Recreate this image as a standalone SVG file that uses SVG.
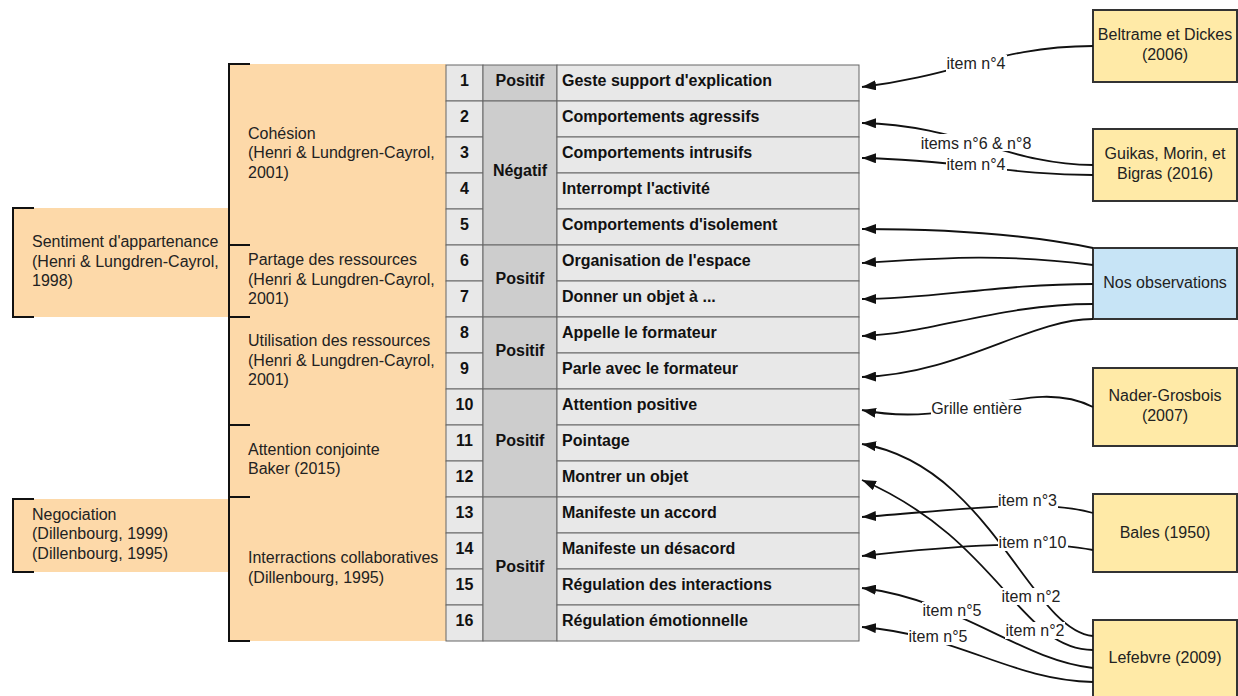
<svg xmlns="http://www.w3.org/2000/svg" width="1238" height="696" viewBox="0 0 1238 696">
<style>
.t{font-family:"Liberation Sans",Arial,sans-serif;font-size:16px;fill:#222}
.b{font-weight:bold;fill:#111}
.m{text-anchor:middle}
.cell{fill:#e8e8e8;stroke:#666;stroke-width:1}
.cat{fill:#cdcdcd;stroke:#666;stroke-width:1}
.org{fill:#fdd9a9}
.br{fill:none;stroke:#111;stroke-width:2}
.ylw{fill:#ffeaa7;stroke:#333;stroke-width:2}
.blu{fill:#c7e4f6;stroke:#333;stroke-width:2}
.c{fill:none;stroke:#111;stroke-width:1.8;marker-end:url(#arr)}
.lb{fill:#fff}
</style>
<defs>
<marker id="arr" viewBox="0 0 14 10" refX="14" refY="5" markerWidth="14" markerHeight="10" markerUnits="userSpaceOnUse" orient="auto"><path d="M0,0 L14,5 L0,10 z" fill="#111"/></marker>
</defs>

<g id="sentiment">
<rect class="org" x="13" y="208" width="216" height="109"/>
<path class="br" d="M34,208 H13 V317 H34"/>
<text class="t"><tspan x="32" y="247">Sentiment d'appartenance</tspan><tspan x="32" y="266.5">(Henri &amp; Lungdren-Cayrol,</tspan><tspan x="32" y="286">1998)</tspan></text>
</g>
<g id="negociation">
<rect class="org" x="13" y="499" width="216" height="73"/>
<path class="br" d="M34,499 H13 V572 H34"/>
<text class="t"><tspan x="32" y="519.5">Negociation</tspan><tspan x="32" y="539">(Dillenbourg, 1999)</tspan><tspan x="32" y="558.5">(Dillenbourg, 1995)</tspan></text>
</g>

<g id="categories">
<rect class="org" x="229" y="64" width="217" height="577"/>
<path class="br" d="M250,64 H229 V641 H250 M229,245 H250 M229,317 H250 M229,425 H250 M229,497 H250"/>
</g>
<g id="cohesion"><text class="t"><tspan x="248" y="138.5">Cohésion</tspan><tspan x="248" y="158">(Henri &amp; Lundgren-Cayrol,</tspan><tspan x="248" y="177.5">2001)</tspan></text></g>
<g id="partage"><text class="t"><tspan x="248" y="265">Partage des ressources</tspan><tspan x="248" y="284.5">(Henri &amp; Lungdren-Cayrol,</tspan><tspan x="248" y="304">2001)</tspan></text></g>
<g id="utilisation"><text class="t"><tspan x="248" y="346">Utilisation des ressources</tspan><tspan x="248" y="365.5">(Henri &amp; Lungdren-Cayrol,</tspan><tspan x="248" y="385">2001)</tspan></text></g>
<g id="attention"><text class="t"><tspan x="248" y="454.5">Attention conjointe</tspan><tspan x="248" y="474">Baker (2015)</tspan></text></g>
<g id="interractions"><text class="t"><tspan x="248" y="563">Interractions collaboratives</tspan><tspan x="248" y="582.5">(Dillenbourg, 1995)</tspan></text></g>

<g id="grille">
<g id="numeros">
<rect class="cell" x="446" y="65" width="37" height="36"/>
<rect class="cell" x="446" y="101" width="37" height="36"/>
<rect class="cell" x="446" y="137" width="37" height="36"/>
<rect class="cell" x="446" y="173" width="37" height="36"/>
<rect class="cell" x="446" y="209" width="37" height="36"/>
<rect class="cell" x="446" y="245" width="37" height="36"/>
<rect class="cell" x="446" y="281" width="37" height="36"/>
<rect class="cell" x="446" y="317" width="37" height="36"/>
<rect class="cell" x="446" y="353" width="37" height="36"/>
<rect class="cell" x="446" y="389" width="37" height="36"/>
<rect class="cell" x="446" y="425" width="37" height="36"/>
<rect class="cell" x="446" y="461" width="37" height="36"/>
<rect class="cell" x="446" y="497" width="37" height="36"/>
<rect class="cell" x="446" y="533" width="37" height="36"/>
<rect class="cell" x="446" y="569" width="37" height="36"/>
<rect class="cell" x="446" y="605" width="37" height="36"/>
<g class="t b m">
<text x="464.5" y="86">1</text><text x="464.5" y="122">2</text><text x="464.5" y="158">3</text><text x="464.5" y="194">4</text>
<text x="464.5" y="230">5</text><text x="464.5" y="266">6</text><text x="464.5" y="302">7</text><text x="464.5" y="338">8</text>
<text x="464.5" y="374">9</text><text x="464.5" y="410">10</text><text x="464.5" y="446">11</text><text x="464.5" y="482">12</text>
<text x="464.5" y="518">13</text><text x="464.5" y="554">14</text><text x="464.5" y="590">15</text><text x="464.5" y="626">16</text>
</g>
</g>
<g id="valences">
<rect class="cat" x="483" y="65" width="74" height="36"/>
<rect class="cat" x="483" y="101" width="74" height="144"/>
<rect class="cat" x="483" y="245" width="74" height="72"/>
<rect class="cat" x="483" y="317" width="74" height="72"/>
<rect class="cat" x="483" y="389" width="74" height="108"/>
<rect class="cat" x="483" y="497" width="74" height="144"/>
<g class="t b m">
<text x="520" y="86">Positif</text>
<text x="520" y="176">Négatif</text>
<text x="520" y="284">Positif</text>
<text x="520" y="356">Positif</text>
<text x="520" y="446">Positif</text>
<text x="520" y="572">Positif</text>
</g>
</g>
<g id="items">
<rect class="cell" x="557" y="65" width="302" height="36"/>
<rect class="cell" x="557" y="101" width="302" height="36"/>
<rect class="cell" x="557" y="137" width="302" height="36"/>
<rect class="cell" x="557" y="173" width="302" height="36"/>
<rect class="cell" x="557" y="209" width="302" height="36"/>
<rect class="cell" x="557" y="245" width="302" height="36"/>
<rect class="cell" x="557" y="281" width="302" height="36"/>
<rect class="cell" x="557" y="317" width="302" height="36"/>
<rect class="cell" x="557" y="353" width="302" height="36"/>
<rect class="cell" x="557" y="389" width="302" height="36"/>
<rect class="cell" x="557" y="425" width="302" height="36"/>
<rect class="cell" x="557" y="461" width="302" height="36"/>
<rect class="cell" x="557" y="497" width="302" height="36"/>
<rect class="cell" x="557" y="533" width="302" height="36"/>
<rect class="cell" x="557" y="569" width="302" height="36"/>
<rect class="cell" x="557" y="605" width="302" height="36"/>
<g class="t b">
<text x="562" y="86">Geste support d'explication</text>
<text x="562" y="122">Comportements agressifs</text>
<text x="562" y="158">Comportements intrusifs</text>
<text x="562" y="194">Interrompt l'activité</text>
<text x="562" y="230">Comportements d'isolement</text>
<text x="562" y="266">Organisation de l'espace</text>
<text x="562" y="302">Donner un objet à ...</text>
<text x="562" y="338">Appelle le formateur</text>
<text x="562" y="374">Parle avec le formateur</text>
<text x="562" y="410">Attention positive</text>
<text x="562" y="446">Pointage</text>
<text x="562" y="482">Montrer un objet</text>
<text x="562" y="518">Manifeste un accord</text>
<text x="562" y="554">Manifeste un désacord</text>
<text x="562" y="590">Régulation des interactions</text>
<text x="562" y="626">Régulation émotionnelle</text>
</g>
</g>
</g>

<g id="beltrame"><rect class="ylw" x="1093" y="10" width="144" height="72"/><text class="t m"><tspan x="1165" y="40">Beltrame et Dickes</tspan><tspan x="1165" y="59.5">(2006)</tspan></text></g>
<g id="guikas"><rect class="ylw" x="1093" y="129" width="144" height="72"/><text class="t m"><tspan x="1165" y="159">Guikas, Morin, et</tspan><tspan x="1165" y="178.5">Bigras (2016)</tspan></text></g>
<g id="observations"><rect class="blu" x="1093" y="248" width="144" height="71"/><text class="t m" x="1165" y="288">Nos observations</text></g>
<g id="nader"><rect class="ylw" x="1093" y="368" width="144" height="78"/><text class="t m"><tspan x="1165" y="401">Nader-Grosbois</tspan><tspan x="1165" y="420.5">(2007)</tspan></text></g>
<g id="bales"><rect class="ylw" x="1093" y="494" width="144" height="78"/><text class="t m" x="1165" y="538">Bales (1950)</text></g>
<g id="lefebvre"><rect class="ylw" x="1093" y="620" width="144" height="80"/><text class="t m" x="1165" y="663">Lefebvre (2009)</text></g>

<g id="connecteurs">
<path class="c" d="M1093,46 C1000,46 960,75 862,87"/>
<path class="c" d="M1093,165 C1010,165 960,125 862,123"/>
<path class="c" d="M1093,175 C1010,175 960,160 862,158"/>
<path class="c" d="M1093,248 C1030,235 950,229 862,229"/>
<path class="c" d="M1093,265 C1000,253 940,258 862,263"/>
<path class="c" d="M1093,284 C1000,284 930,299 862,299"/>
<path class="c" d="M1093,304 C1000,304 930,334 862,336"/>
<path class="c" d="M1093,319 C1030,319 960,374 862,377"/>
<path class="c" d="M1093,407 C1030,375 960,430 862,410"/>
<path class="c" d="M1093,513 C1040,498 960,510 862,517"/>
<path class="c" d="M1093,550 C1040,540 960,545 862,556"/>
<path class="c" d="M1093,636 C1030,630 990,465 862,444"/>
<path class="c" d="M1093,650 C1020,650 1000,540 862,480"/>
<path class="c" d="M1093,668 C1020,660 960,600 862,588"/>
<path class="c" d="M1093,682 C1010,680 960,635 862,627"/>
<g id="etiquettes">
<rect class="lb" x="946" y="55" width="61" height="17"/>
<text class="t m" x="976" y="69">item n°4</text>
<rect class="lb" x="920" y="134" width="112" height="17"/>
<text class="t m" x="976" y="148.5">items n°6 &amp; n°8</text>
<rect class="lb" x="946" y="156" width="61" height="16"/>
<text class="t m" x="976" y="169.5">item n°4</text>
<rect class="lb" x="931" y="400" width="92" height="17"/>
<text class="t m" x="976.5" y="414">Grille entière</text>
<rect class="lb" x="998" y="492" width="60" height="17"/>
<text class="t m" x="1027.5" y="506">item n°3</text>
<rect class="lb" x="998" y="534" width="70" height="17"/>
<text class="t m" x="1032.5" y="548">item n°10</text>
<rect class="lb" x="1001" y="588" width="60" height="17"/>
<text class="t m" x="1031" y="602">item n°2</text>
<rect class="lb" x="1005" y="622" width="60" height="17"/>
<text class="t m" x="1035" y="636">item n°2</text>
<rect class="lb" x="922" y="602" width="60" height="17"/>
<text class="t m" x="952" y="616">item n°5</text>
<rect class="lb" x="908" y="628" width="60" height="17"/>
<text class="t m" x="938" y="642">item n°5</text>
</g>
</g>
</svg>
